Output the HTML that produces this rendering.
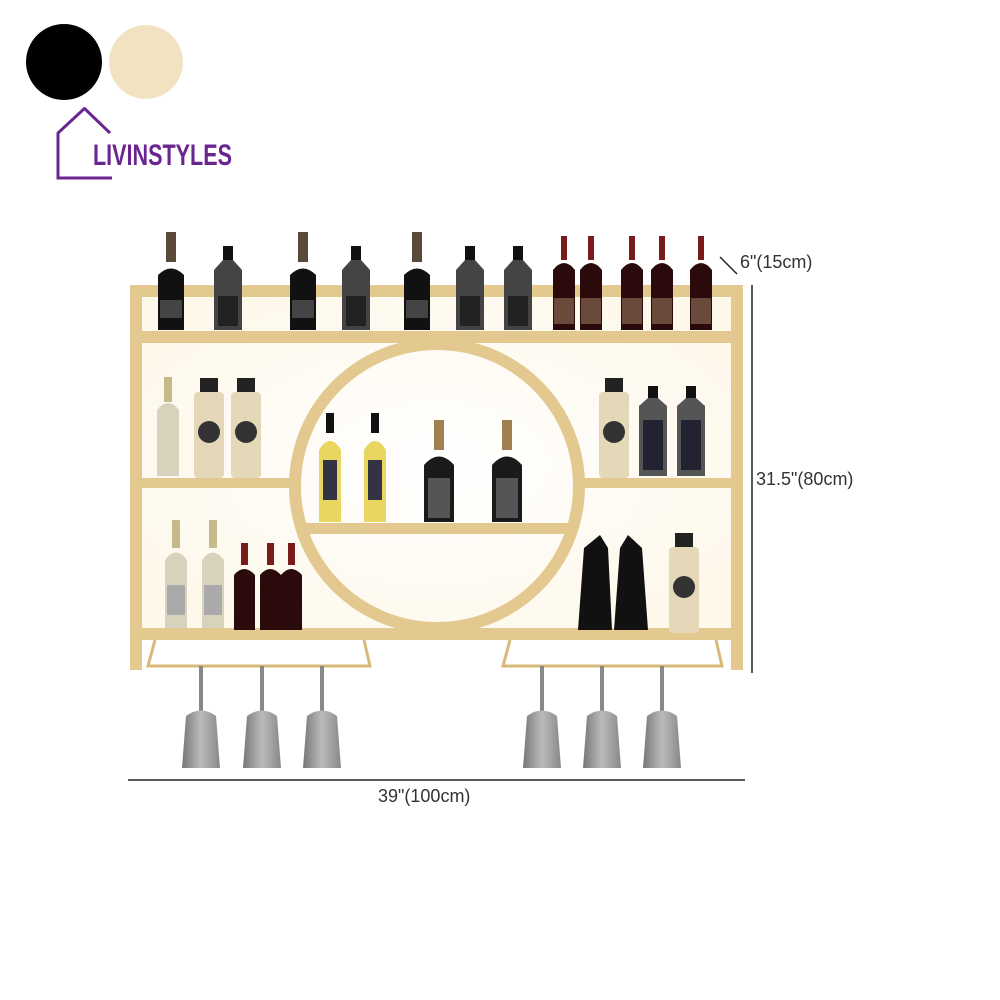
<!DOCTYPE html>
<html><head><meta charset="utf-8"><style>
body{margin:0;background:#fff;}
svg{display:block;}
text{font-family:"Liberation Sans",sans-serif;}
</style></head><body>
<svg width="1000" height="1000" viewBox="0 0 1000 1000" xmlns="http://www.w3.org/2000/svg">
<defs>
<radialGradient id="glow" cx="50%" cy="50%" r="60%">
<stop offset="0" stop-color="#ffffff"/><stop offset="1" stop-color="#fef8ea"/>
</radialGradient>
<linearGradient id="glass" x1="0" x2="1"><stop offset="0" stop-color="#777"/><stop offset=".5" stop-color="#bbb"/><stop offset="1" stop-color="#888"/></linearGradient>
</defs>
<rect width="1000" height="1000" fill="#fff"/>
<circle cx="64" cy="62" r="38" fill="#000"/>
<circle cx="146" cy="62" r="37" fill="#f1e3c2"/>
<polyline points="85,108 58,133 58,178 112,178" fill="none" stroke="#6b2591" stroke-width="3"/>
<line x1="84" y1="108" x2="110" y2="133" stroke="#6b2591" stroke-width="3"/>
<text x="93" y="165" font-size="30" font-weight="bold" fill="#6b2591" textLength="139" lengthAdjust="spacingAndGlyphs">LIVINSTYLES</text>

<rect x="140" y="297" width="593" height="335" fill="url(#glow)"/>
<g fill="#e3c98f">
<rect x="130" y="285" width="12" height="385"/>
<rect x="731" y="285" width="12" height="385"/>
<rect x="130" y="285" width="613" height="12"/>
<rect x="130" y="331" width="613" height="12"/>
<rect x="130" y="478" width="160" height="10"/>
<rect x="584" y="478" width="159" height="10"/>
<rect x="303" y="523" width="268" height="11"/>
<rect x="130" y="628" width="613" height="12"/>
</g>
<circle cx="437" cy="486" r="142" fill="none" stroke="#e3c98f" stroke-width="12"/>
<g fill="none" stroke="#d8b97a" stroke-width="3">
<path d="M155,640 L148,666 L370,666 L364,640"/>
<path d="M510,640 L503,666 L722,666 L716,640"/>
</g>
<g fill="url(#glass)">
<g id="g1"><rect x="199" y="666" width="4" height="50" fill="#888"/><path d="M186,716 Q201,705 216,716 L220,768 L182,768 Z"/></g>
<use href="#g1" x="61"/><use href="#g1" x="121"/>
<use href="#g1" x="341"/><use href="#g1" x="401"/><use href="#g1" x="461"/>
</g>
<g>
<g id="b1"><rect x="166" y="232" width="10" height="30" fill="#5a4a3a"/><path d="M158,330 L158,275 Q171,262 184,275 L184,330Z" fill="#111"/><rect x="160" y="300" width="22" height="18" fill="#444"/></g>
<use href="#b1" x="132"/><use href="#b1" x="246"/>
<g id="b2"><rect x="223" y="246" width="10" height="14" fill="#111"/><path d="M214,330 L214,270 L223,260 L233,260 L242,270 L242,330Z" fill="#444"/><rect x="218" y="296" width="20" height="30" fill="#222"/></g>
<use href="#b2" x="128"/><use href="#b2" x="242"/><use href="#b2" x="290"/>
<g id="b3"><rect x="561" y="236" width="6" height="24" fill="#7a1a1a"/><path d="M553,330 L553,270 Q564,256 575,270 L575,330Z" fill="#2a0a0a"/><rect x="554" y="298" width="20" height="26" fill="#6a4a3a"/></g>
<use href="#b3" x="27"/><use href="#b3" x="68"/><use href="#b3" x="98"/><use href="#b3" x="137"/>
</g>
<path d="M157,476 L157,410 Q168,396 179,410 L179,476Z" fill="#d8d2bc"/><rect x="164" y="377" width="8" height="25" fill="#c8b98a"/>
<g id="j1"><rect x="200" y="378" width="18" height="14" fill="#222"/><rect x="194" y="392" width="30" height="86" rx="4" fill="#e4d8b8"/><circle cx="209" cy="432" r="11" fill="#333"/></g>
<use href="#j1" x="37"/>
<use href="#j1" x="405"/>
<g id="b4"><rect x="648" y="386" width="10" height="14" fill="#111"/><path d="M639,476 L639,406 L648,398 L658,398 L667,406 L667,476Z" fill="#555"/><rect x="643" y="420" width="20" height="50" fill="#223"/></g>
<use href="#b4" x="38"/>
<g id="y1"><rect x="326" y="413" width="8" height="20" fill="#111"/><path d="M319,522 L319,450 Q330,432 341,450 L341,522Z" fill="#e8d660"/><rect x="323" y="460" width="14" height="40" fill="#334"/></g>
<use href="#y1" x="45"/>
<g id="d1"><rect x="434" y="420" width="10" height="30" fill="#a08050"/><path d="M424,522 L424,465 Q439,448 454,465 L454,522Z" fill="#1a1a1a"/><rect x="428" y="478" width="22" height="40" fill="#555"/></g>
<use href="#d1" x="68"/>
<g id="w1"><rect x="172" y="520" width="8" height="28" fill="#c8b98a"/><path d="M165,628 L165,560 Q176,545 187,560 L187,628Z" fill="#d8d2bc"/><rect x="167" y="585" width="18" height="30" fill="#aaa"/></g>
<use href="#w1" x="37"/>
<g id="r1"><rect x="241" y="543" width="7" height="22" fill="#7a1a1a"/><path d="M234,630 L234,575 Q244,563 255,575 L255,630Z" fill="#2a0a0a"/></g>
<use href="#r1" x="26"/><use href="#r1" x="47"/>
<path d="M578,630 L584,548 L600,535 L608,548 L612,630Z" fill="#111"/>
<path d="M614,630 L620,548 L628,535 L642,548 L648,630Z" fill="#111"/>
<use href="#j1" x="475" y="155"/>
<line x1="752" y1="285" x2="752" y2="673" stroke="#222" stroke-width="1.5"/>
<line x1="720" y1="257" x2="737" y2="274" stroke="#222" stroke-width="1.5"/>
<line x1="128" y1="780" x2="745" y2="780" stroke="#222" stroke-width="1.5"/>
<text x="740" y="268" font-size="18" fill="#333">6"(15cm)</text>
<text x="756" y="485" font-size="18" fill="#333">31.5"(80cm)</text>
<text x="378" y="802" font-size="18" fill="#333">39"(100cm)</text>
</svg>
</body></html>
